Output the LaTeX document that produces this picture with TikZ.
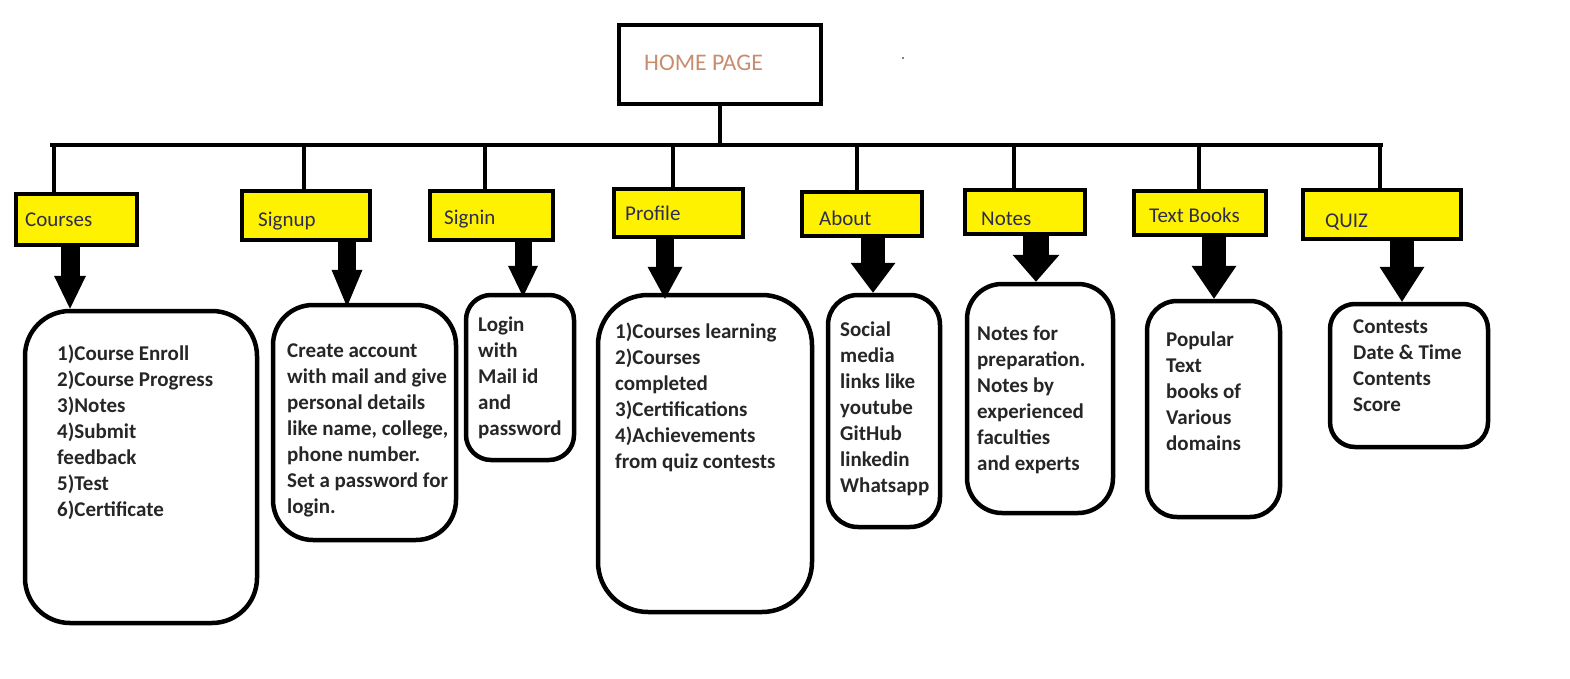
\documentclass[tikz,border=0pt]{standalone}
\usepackage{fontspec}
\setmainfont{Carlito}
\usetikzlibrary{arrows.meta}
\definecolor{homec}{RGB}{200,140,110}
\definecolor{labc}{RGB}{45,45,80}
\definecolor{txtc}{RGB}{38,38,38}
\definecolor{yel}{RGB}{255,242,0}
\begin{document}
\begin{tikzpicture}[x=1pt,y=-1pt,
  box/.style={draw=black, line width=4.5pt, inner sep=0pt},
  labbox/.style={box, fill=yel},
  detbox/.style={box, fill=white},
  labtxt/.style={anchor=base west, inner sep=0pt, text=labc, font=\fontsize{21}{25}\selectfont},
  dettxt/.style={anchor=north west, inner sep=0pt, align=left, text=txtc, font=\fontsize{21}{26}\selectfont\bfseries},
  wire/.style={line width=4pt, line cap=rect},
  bigarrow/.style n args={3}{line width=#1, -{Triangle[width=#2,length=#3,line width=0pt]}}
]
\useasboundingbox (0,0) rectangle (1570,679);
\fill (903,58) circle (0.8);

% home
\node[box, minimum width=202pt, minimum height=79pt] (home) at (720,64.5) {};
\node[anchor=base west, inner sep=0pt, text=homec, font=\fontsize{23.8}{28}\selectfont] (homet) at (644,70.5) {HOME PAGE};

% bus
\coordinate (busL) at (52,145);
\coordinate (busR) at (1381,145);
\draw[wire] (home.south) -- (home.south |- busL);
\draw[wire] (busL) -- (busR);

% label boxes
\node[labbox, minimum width=121pt, minimum height=51pt] (cl) at (76.5,219.5) {};
\node[labbox, minimum width=128pt, minimum height=49pt] (sl) at (306,215.5) {};
\node[labbox, minimum width=123pt, minimum height=49pt] (il) at (491.5,215.5) {};
\node[labbox, minimum width=129pt, minimum height=48pt] (pl) at (678.5,213) {};
\node[labbox, minimum width=120pt, minimum height=44pt] (al) at (862,214) {};
\node[labbox, minimum width=120pt, minimum height=44pt] (nl) at (1025,212) {};
\node[labbox, minimum width=132pt, minimum height=44pt] (tl) at (1200,213) {};
\node[labbox, minimum width=158pt, minimum height=49pt] (ql) at (1382,214.5) {};

\node[labtxt] (clt) at (25,226) {Courses};
\node[labtxt] (slt) at (258,226) {Signup};
\node[labtxt] (ilt) at (444,224.5) {Signin};
\node[labtxt] (plt) at (625,220.5) {Profile};
\node[labtxt] (alt) at (819,225.5) {About};
\node[labtxt] (nlt) at (981,225.5) {Notes};
\node[labtxt] (tlt) at (1149,222.5) {Text Books};
\node[labtxt] (qlt) at (1325,227) {QUIZ};

% drops
\draw[wire] (busL -| 54,0) -- (cl.north -| 54,0);
\draw[wire] (busL -| 304,0) -- (sl.north -| 304,0);
\draw[wire] (busL -| 485,0) -- (il.north -| 485,0);
\draw[wire] (busL -| 673,0) -- (pl.north -| 673,0);
\draw[wire] (busL -| 857,0) -- (al.north -| 857,0);
\draw[wire] (busL -| 1014,0) -- (nl.north -| 1014,0);
\draw[wire] (busL -| 1199,0) -- (tl.north -| 1199,0);
\draw[wire] (busL -| 1380,0) -- (ql.north -| 1380,0);

% detail boxes
\node[detbox, rounded corners=45pt, minimum width=232pt, minimum height=312pt] (cd) at (141,467) {};
\node[detbox, rounded corners=40pt, minimum width=183pt, minimum height=235pt] (sd) at (364.5,422.5) {};
\node[detbox, rounded corners=25pt, minimum width=108pt, minimum height=165pt] (id) at (520,377.5) {};
\node[detbox, rounded corners=50pt, minimum width=214pt, minimum height=317pt] (pd) at (705,453.5) {};
\node[detbox, rounded corners=30pt, minimum width=112pt, minimum height=232pt] (ad) at (884,411) {};
\node[detbox, rounded corners=35pt, minimum width=146pt, minimum height=229pt] (nd) at (1040,398.5) {};
\node[detbox, rounded corners=30pt, minimum width=133pt, minimum height=216pt] (td) at (1213.5,409) {};
\node[detbox, rounded corners=25pt, minimum width=158pt, minimum height=143pt] (qd) at (1409,375.5) {};

% arrows
\draw[bigarrow={19pt}{32pt}{33pt}] (cl.south -| 70,0) -- (cd.north -| 70,0);
\draw[bigarrow={18pt}{31pt}{37pt}, shorten >=-4pt] (sl.south -| 347,0) -- (sd.north -| 347,0);
\draw[bigarrow={17pt}{30pt}{31pt}, shorten >=-4pt] (il.south -| 523,0) -- (id.north -| 523,0);
\draw[bigarrow={18pt}{35pt}{32pt}, shorten >=-6pt] (pl.south -| 665,0) -- (pd.north -| 665,0);
\draw[bigarrow={24pt}{45pt}{30pt}] (al.south -| 873,0) -- (ad.north -| 873,0);
\draw[bigarrow={26pt}{47pt}{27pt}] (nl.south -| 1036,0) -- (nd.north -| 1036,0);
\draw[bigarrow={24pt}{45pt}{33pt}] (tl.south -| 1214,0) -- (td.north -| 1214,0);
\draw[bigarrow={24pt}{45pt}{35pt}] (ql.south -| 1402,0) -- (qd.north -| 1402,0);

% detail texts
\node[dettxt] (cdt) at (57,344.5) {1)Course Enroll\\2)Course Progress\\3)Notes\\4)Submit\\feedback\\5)Test\\6)Certificate};
\node[dettxt] (sdt) at (287,343.5) {Create account\\with mail and give\\personal details\\like name, college,\\phone number.\\Set a password for\\login.};
\node[dettxt] (idt) at (478,316.5) {Login\\with\\Mail id\\and\\password};
\node[dettxt] (pdt) at (615,322.5) {1)Courses learning\\2)Courses\\completed\\3)Certifications\\4)Achievements\\from quiz contests};
\node[dettxt] (adt) at (840,322) {Social\\media\\links like\\youtube\\GitHub\\linkedin\\Whatsapp};
\node[dettxt] (ndt) at (977,325.5) {Notes for\\preparation.\\Notes by\\experienced\\faculties\\and experts};
\node[dettxt] (tdt) at (1166,331.5) {Popular\\Text\\books of\\Various\\domains};
\node[dettxt] (qdt) at (1353,320) {Contests\\Date \& Time\\Contents\\Score};
\end{tikzpicture}
\end{document}
